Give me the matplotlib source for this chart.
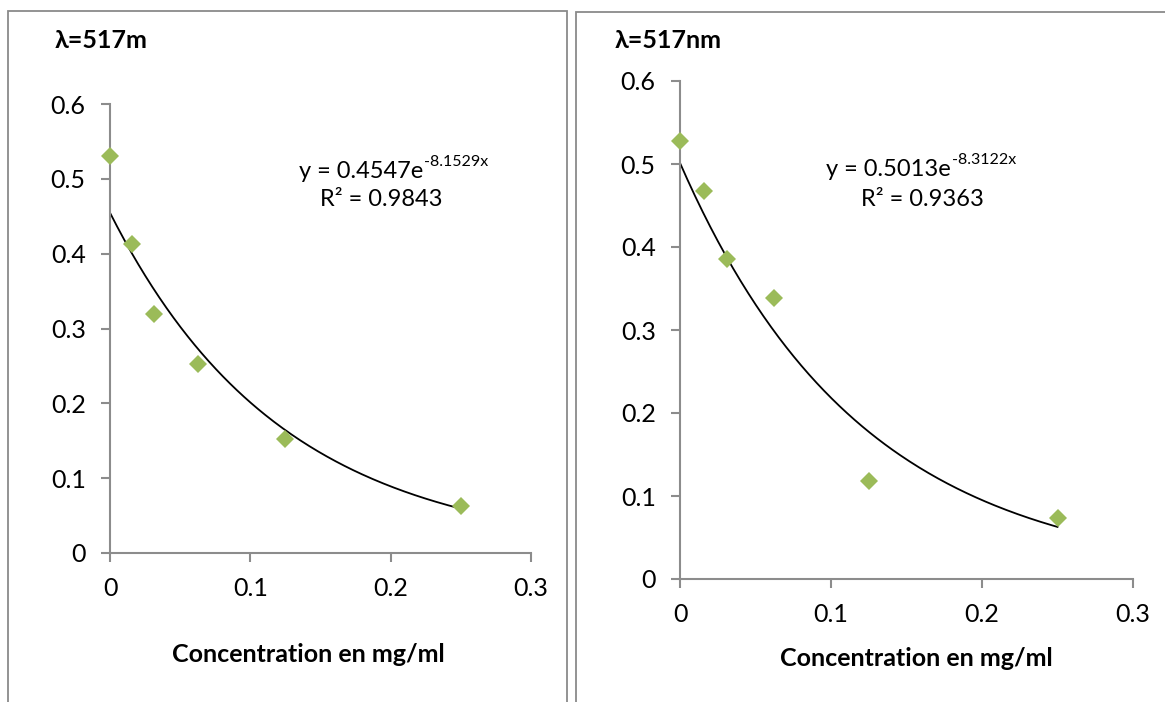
import numpy as np
import matplotlib
matplotlib.use("Agg")
import matplotlib.pyplot as plt
from matplotlib.patches import Rectangle

plt.rcParams['font.family'] = ['Lato', 'DejaVu Sans']

# concentrations in mg/ml
conc = [0.0, 0.015625, 0.03125, 0.0625, 0.125, 0.25]

# absorbance, left and right panels
abs_left = [0.53, 0.413, 0.32, 0.253, 0.153, 0.063]
abs_right = [0.528, 0.467, 0.386, 0.338, 0.118, 0.074]

# exponential fits shown on the chart
fit_left = (0.4547, -8.1529, 0.9843)
fit_right = (0.5013, -8.3122, 0.9363)

titles = ["λ=517m", "λ=517nm"]
xlabel = "Concentration en mg/ml"
xticks = [0, 0.1, 0.2, 0.3]
yticks = [0, 0.1, 0.2, 0.3, 0.4, 0.5, 0.6]

W, H = 1165, 702
AXIS_GRAY = '#8c8c8c'
GREEN = '#9bbb59'

fig = plt.figure(figsize=(W / 100, H / 100), dpi=100)


def px(x0, y0, x1, y1):
    # pixel box (top-left origin) -> figure fraction rect
    return [x0 / W, 1 - y1 / H, (x1 - x0) / W, (y1 - y0) / H]


# panel frames
fig.patches.append(Rectangle((8 / W, -0.1), (567 - 8) / W, 1.1 - 11 / H,
                             transform=fig.transFigure, fill=False,
                             edgecolor='#8a8a8a', lw=1.3))
fig.patches.append(Rectangle((575.5 / W, -0.1), 0.6, 1.1 - 12 / H,
                             transform=fig.transFigure, fill=False,
                             edgecolor='#8a8a8a', lw=1.3))

panels = [
    dict(box=(110, 104, 531, 553), y=abs_left, fit=fit_left, title=titles[0],
         title_xy=(55, 40), eq_xy=(423, 171), r2_xy=(381, 200), lab_xy=(308, 655)),
    dict(box=(680, 81, 1133, 579), y=abs_right, fit=fit_right, title=titles[1],
         title_xy=(615, 41), eq_xy=(951, 169), r2_xy=(922, 200), lab_xy=(916, 658)),
]

for p in panels:
    ax = fig.add_axes(px(*p['box']))
    a, b, r2 = p['fit']
    xf = np.linspace(0, max(conc), 200)
    ax.plot(xf, a * np.exp(b * xf), color='black', lw=1.3, zorder=2)
    ax.plot(conc, p['y'], ls='none', marker='D', ms=9.5, color=GREEN,
            markeredgewidth=0, zorder=3, clip_on=False)
    ax.set_xlim(0, 0.3)
    ax.set_ylim(0, 0.6)
    ax.set_xticks(xticks)
    ax.set_yticks(yticks)
    ax.set_xticklabels([f"{v:g}" for v in xticks])
    ax.set_yticklabels([f"{v:g}" for v in yticks])
    for s in ['top', 'right']:
        ax.spines[s].set_visible(False)
    for s in ['left', 'bottom']:
        ax.spines[s].set_color(AXIS_GRAY)
        ax.spines[s].set_linewidth(1.5)
    ax.tick_params(axis='both', direction='out', length=6.5, width=1.5,
                   color=AXIS_GRAY, labelsize=18)
    ax.tick_params(axis='x', pad=11)
    ax.tick_params(axis='y', pad=11)
    ax.patch.set_alpha(0)

    fig.text(p['title_xy'][0] / W, 1 - p['title_xy'][1] / H, p['title'],
             fontsize=18, fontweight='bold', ha='left', va='center')
    # equation: base text ends where the superscript begins
    ex, ey = p['eq_xy']
    fig.text(ex / W, 1 - ey / H, f"y = {a:.4f}e",
             fontsize=17, ha='right', va='center')
    fig.text((ex + 1) / W, 1 - (ey - 9) / H, f"{b:.4f}x",
             fontsize=11.5, ha='left', va='center')
    rx, ry = p['r2_xy']
    fig.text(rx / W, 1 - ry / H, f"R² = {r2:.4f}",
             fontsize=17, ha='center', va='center')
    fig.text(p['lab_xy'][0] / W, 1 - p['lab_xy'][1] / H, xlabel,
             fontsize=18, fontweight='bold', ha='center', va='center')

fig.savefig("out.png", dpi=100)
